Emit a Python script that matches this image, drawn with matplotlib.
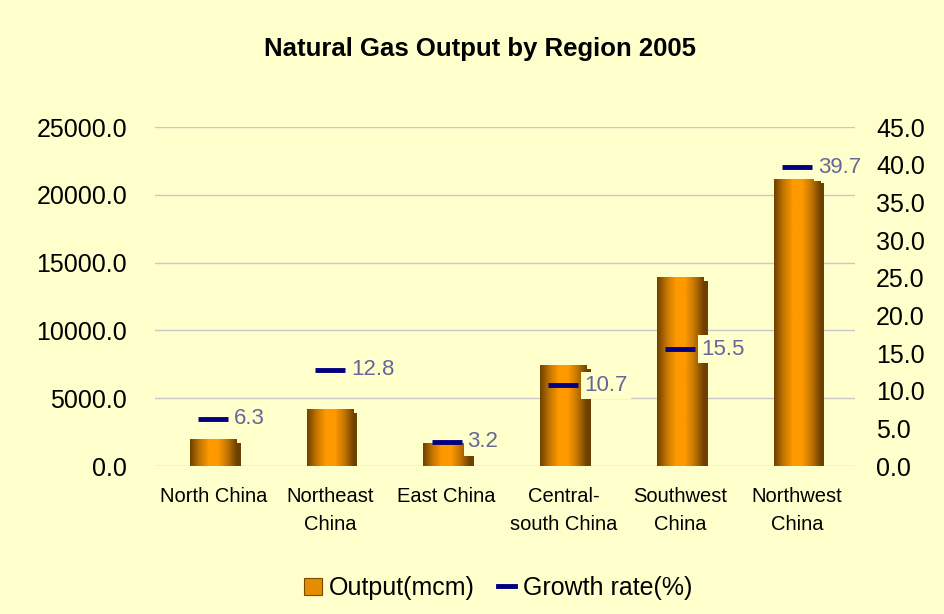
import numpy as np
import matplotlib
matplotlib.use("Agg")
import matplotlib.pyplot as plt
from matplotlib.colors import LinearSegmentedColormap
from matplotlib.patches import Rectangle, Patch
from matplotlib.lines import Line2D

plt.rcParams['font.family'] = ['Liberation Sans', 'DejaVu Sans']

regions = ["North China", "Northeast\nChina", "East China", "Central-\nsouth China",
           "Southwest\nChina", "Northwest\nChina"]
output_mcm = [2000, 4200, 1700, 7450, 13950, 21150]
growth_pct = [6.3, 12.8, 3.2, 10.7, 15.5, 39.7]

bg = '#FFFFCC'
fig = plt.figure(figsize=(9.45, 6.14), dpi=100, facecolor=bg)
ax = fig.add_axes([0.164, 0.241, 0.741, 0.552], facecolor=bg)
ax2 = ax.twinx()

x = np.arange(len(regions))
width = 0.4

# cylinder-like shading for the bars
cyl = LinearSegmentedColormap.from_list(
    "cyl", ["#6E4000", "#C27400", "#FF9900", "#FF9900", "#C27400", "#6E4000"])
grad = np.linspace(0, 1, 256).reshape(1, -1)

bars = ax.bar(x, output_mcm, width=width, color='none', zorder=3)
for b in bars:
    x0, h = b.get_x(), b.get_height()
    # small dark side to fake the 3D depth
    side = Rectangle((x0 + width - 0.01, 0), 0.045, max(h - 300, 0),
                     facecolor='#6B4000', edgecolor='none', zorder=2)
    ax.add_patch(side)
    im = ax.imshow(grad, extent=[x0, x0 + width, 0, h], aspect='auto',
                   cmap=cyl, zorder=3)
    im.set_clip_path(b)

ax.set_xlim(-0.5, len(regions) - 0.5)
ax.set_ylim(0, 25000)
ax.set_yticks(np.arange(0, 25001, 5000))
ax.set_yticklabels([f"{v:.1f}" for v in np.arange(0, 25001, 5000)], fontsize=18)
ax.set_xticks(x)
ax.set_xticklabels(regions, fontsize=14.5, linespacing=1.6)
ax.tick_params(axis='y', length=0, pad=20)
ax.tick_params(axis='x', length=0, pad=15)
ax.grid(axis='y', color='#C8C8C8', linewidth=1, zorder=0)
ax.set_axisbelow(True)
for s in ax.spines.values():
    s.set_visible(False)

# growth rate shown as short dashes on the right axis
ax2.scatter(x, growth_pct, marker='_', s=470, linewidths=3.5, color='#000080', zorder=5)
for xi, g in zip(x, growth_pct):
    ax2.annotate(f"{g:.1f}", (xi, g), xytext=(15, 0), textcoords='offset points',
                 va='center', ha='left', fontsize=16, color='#666699',
                 bbox=dict(boxstyle='square,pad=0.15', facecolor=bg, edgecolor='none'),
                 zorder=6)
ax2.set_ylim(0, 45)
ax2.set_yticks(np.arange(0, 46, 5))
ax2.set_yticklabels([f"{v:.1f}" for v in np.arange(0, 46, 5)], fontsize=18)
ax2.tick_params(axis='y', length=0, pad=15)
for s in ax2.spines.values():
    s.set_visible(False)

fig.text(0.508, 0.92, "Natural Gas Output by Region 2005", ha='center', va='center',
         fontsize=18.5, fontweight='bold')

handles = [Patch(facecolor='#E58C00', edgecolor='#7A4A00', linewidth=0.8),
           Line2D([0], [0], color='#000080', linewidth=3.5)]
fig.legend(handles, ["Output(mcm)", "Growth rate(%)"], loc='center',
           bbox_to_anchor=(0.527, 0.042), ncol=2, frameon=False, fontsize=18,
           handlelength=0.7, handleheight=0.7, handletextpad=0.3, columnspacing=0.9)

fig.savefig("out.png", dpi=100, facecolor=bg)
